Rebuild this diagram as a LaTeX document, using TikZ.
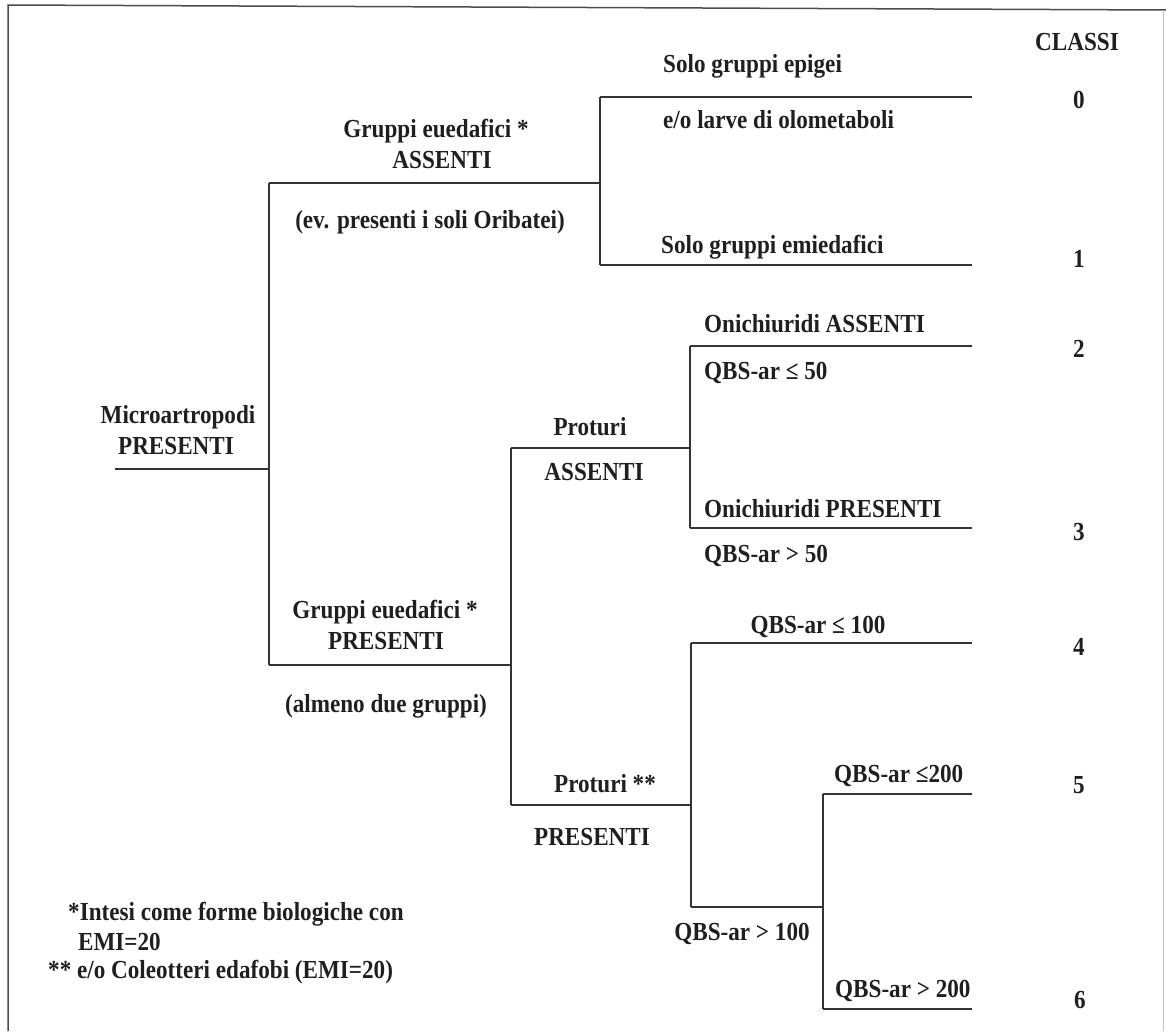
\documentclass[tikz,border=0pt]{standalone}
\usepackage{fontspec}
\setmainfont{Liberation Serif}[FakeStretch=0.89]
\begin{document}
\begin{tikzpicture}[x=1pt,y=-1pt,
  lbl/.style={inner sep=0pt,anchor=base,text=black!88,font=\fontsize{26}{31}\selectfont\bfseries},
  lblw/.style={lbl,anchor=base west},
  branch/.style={line width=1.7pt,draw=black!80},
  framel/.style={line width=1.5pt,draw=black!70}]
\useasboundingbox (0,0) rectangle (1166,1031);
% frame
\draw[framel] (8,1031) -- (8,5) -- (1166,10);
\draw[line width=1pt,draw=black!25] (1163,10) -- (1163,1031);

% junction coordinates
\coordinate (r0) at (115,469);
\coordinate (j1) at (269,469);
\coordinate (j1a) at (269,183);
\coordinate (j1b) at (269,665);
\coordinate (j2) at (600,183);
\coordinate (j2a) at (600,97);
\coordinate (j2b) at (600,265);
\coordinate (e0) at (972,97);
\coordinate (e1) at (972,265);
\coordinate (j3) at (511,665);
\coordinate (j3a) at (511,448);
\coordinate (j3b) at (511,805);
\coordinate (j4) at (690,448);
\coordinate (j4a) at (690,346);
\coordinate (j4b) at (690,528);
\coordinate (e2) at (972,346);
\coordinate (e3) at (972,528);
\coordinate (j5) at (691,805);
\coordinate (j5a) at (691,643);
\coordinate (j5b) at (691,907);
\coordinate (e4) at (972,643);
\coordinate (j6) at (823,907);
\coordinate (j6a) at (823,794);
\coordinate (j6b) at (823,1009);
\coordinate (e5) at (972,794);
\coordinate (e6) at (972,1009);

% tree
\draw[branch] (r0) -- (j1);
\draw[branch] (j1a) -- (j1b);
\draw[branch] (j1a) -- (j2);
\draw[branch] (j2a) -- (j2b);
\draw[branch] (j2a) -- (e0);
\draw[branch] (j2b) -- (e1);
\draw[branch] (j1b) -- (j3);
\draw[branch] (j3a) -- (j3b);
\draw[branch] (j3a) -- (j4);
\draw[branch] (j4a) -- (j4b);
\draw[branch] (j4a) -- (e2);
\draw[branch] (j4b) -- (e3);
\draw[branch] (j3b) -- (j5);
\draw[branch] (j5a) -- (j5b);
\draw[branch] (j5a) -- (e4);
\draw[branch] (j5b) -- (j6);
\draw[branch] (j6a) -- (j6b);
\draw[branch] (j6a) -- (e5);
\draw[branch] (j6b) -- (e6);

% labels
\node[lbl] (t1) at (178,423) {Microartropodi};
\node[lbl] (t2) at (176,454) {PRESENTI};
\node[lbl] (t3) at (436,137) {Gruppi euedafici *};
\node[lbl] (t4) at (442,168) {ASSENTI};
\node[lbl] (t5) at (430,228) {(ev. presenti i soli Oribatei)};
\node[lblw] (t6) at (663,72) {Solo gruppi epigei};
\node[lblw] (t7) at (663,128) {e/o larve di olometaboli};
\node[lblw] (t8) at (661,253) {Solo gruppi emiedafici};
\node[lbl] (c0) at (1077,50) {CLASSI};
\node[lbl] (n0) at (1079,108) {0};
\node[lbl] (n1) at (1079,267) {1};
\node[lbl] (n2) at (1079,357) {2};
\node[lbl] (n3) at (1079,540) {3};
\node[lbl] (n4) at (1079,655) {4};
\node[lbl] (n5) at (1079,793) {5};
\node[lbl] (n6) at (1080,1008) {6};
\node[lblw] (t9) at (704,332) {Onichiuridi ASSENTI};
\node[lblw] (t10) at (704,379) {QBS-ar ≤ 50};
\node[lbl] (t11) at (590,435) {Proturi};
\node[lbl] (t12) at (594,480) {ASSENTI};
\node[lblw] (t13) at (704,517) {Onichiuridi PRESENTI};
\node[lblw] (t14) at (704,562) {QBS-ar > 50};
\node[lbl] (t15) at (385,618) {Gruppi euedafici *};
\node[lbl] (t16) at (386,649) {PRESENTI};
\node[lbl] (t17) at (386,712) {(almeno due gruppi)};
\node[lbl] (t18) at (818,633) {QBS-ar ≤ 100};
\node[lbl] (t19) at (605,792) {Proturi **};
\node[lbl] (t20) at (592,845) {PRESENTI};
\node[lblw] (t21) at (834,782) {QBS-ar ≤200};
\node[lbl] (t22) at (742,940) {QBS-ar > 100};
\node[lblw] (t23) at (835,997) {QBS-ar > 200};
\node[lblw] (f1) at (68,920) {*Intesi come forme biologiche con};
\node[lblw] (f2) at (78,950) {EMI=20};
\node[lblw] (f3) at (48,978) {** e/o Coleotteri edafobi (EMI=20)};
\end{tikzpicture}
\end{document}
